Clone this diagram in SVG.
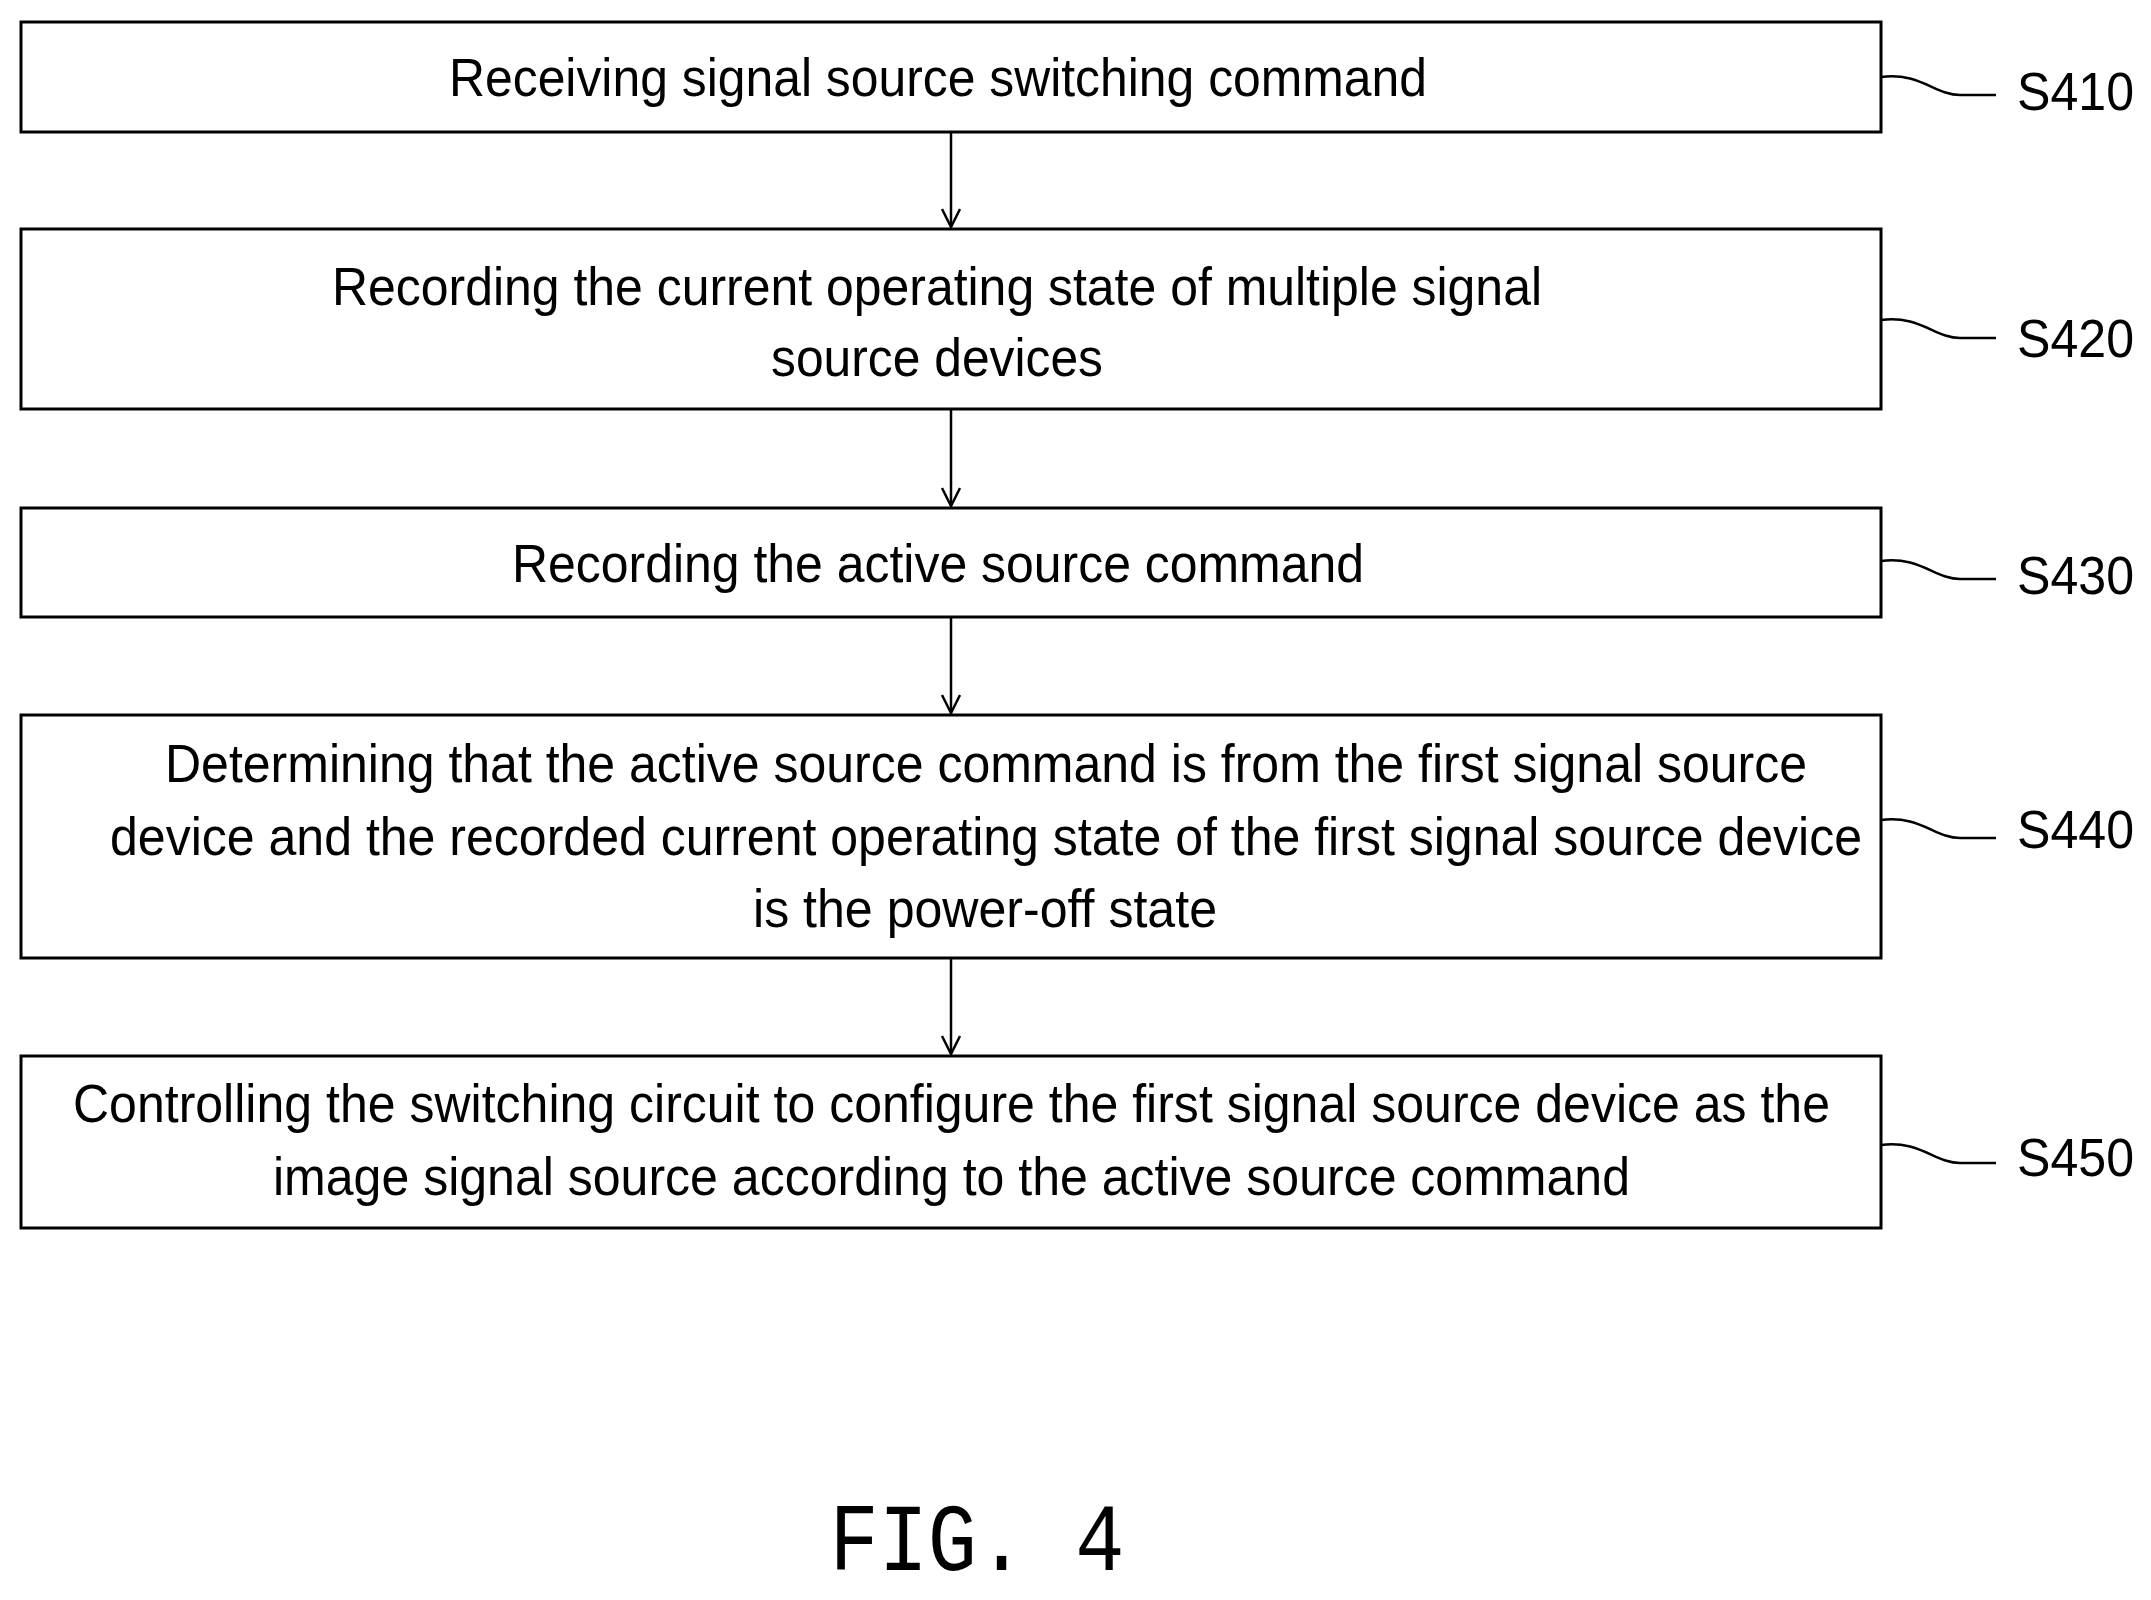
<svg xmlns="http://www.w3.org/2000/svg" width="2151" height="1600" viewBox="0 0 2151 1600">
<style>
.b{fill:#fff;stroke:#000;stroke-width:3}
.t{font-family:"Liberation Sans",Arial,sans-serif;font-size:54px;fill:#000}
.l{font-family:"Liberation Sans",Arial,sans-serif;font-size:54px;fill:#000}
.c{fill:none;stroke:#000;stroke-width:2.5}
</style>
<defs><marker id="a" viewBox="0 0 20 20" refX="19" refY="10" markerWidth="20" markerHeight="20" markerUnits="userSpaceOnUse" orient="auto"><path d="M1,1 L19,10 L1,19" fill="none" stroke="#000" stroke-width="2.5"/></marker></defs>
<rect width="2151" height="1600" fill="#fff"/>
<g id="n1"><rect class="b" x="21" y="22" width="1860" height="110"/><text class="t" x="449" y="96" textLength="978" lengthAdjust="spacingAndGlyphs">Receiving signal source switching command</text></g>
<g id="n2"><rect class="b" x="21" y="229" width="1860" height="180"/><text class="t" x="332" y="305" textLength="1210" lengthAdjust="spacingAndGlyphs">Recording the current operating state of multiple signal</text><text class="t" x="771" y="376" textLength="332" lengthAdjust="spacingAndGlyphs">source devices</text></g>
<g id="n3"><rect class="b" x="21" y="508" width="1860" height="109"/><text class="t" x="512" y="582" textLength="852" lengthAdjust="spacingAndGlyphs">Recording the active source command</text></g>
<g id="n4"><rect class="b" x="21" y="715" width="1860" height="243"/><text class="t" x="165" y="782" textLength="1642" lengthAdjust="spacingAndGlyphs">Determining that the active source command is from the first signal source</text><text class="t" x="110" y="855" textLength="1752" lengthAdjust="spacingAndGlyphs">device and the recorded current operating state of the first signal source device</text><text class="t" x="753" y="927" textLength="464" lengthAdjust="spacingAndGlyphs">is the power-off state</text></g>
<g id="n5"><rect class="b" x="21" y="1056" width="1860" height="172"/><text class="t" x="73" y="1122" textLength="1757" lengthAdjust="spacingAndGlyphs">Controlling the switching circuit to configure the first signal source device as the</text><text class="t" x="273" y="1195" textLength="1357" lengthAdjust="spacingAndGlyphs">image signal source according to the active source command</text></g>
<g id="connectors">
<line class="c" x1="951" y1="132" x2="951" y2="227" marker-end="url(#a)"/>
<line class="c" x1="951" y1="409" x2="951" y2="506" marker-end="url(#a)"/>
<line class="c" x1="951" y1="617" x2="951" y2="713" marker-end="url(#a)"/>
<line class="c" x1="951" y1="958" x2="951" y2="1054" marker-end="url(#a)"/>
<path class="c" d="M1881,77 C1920,72 1935,95 1960,95 L1996,95"/>
<path class="c" d="M1881,320 C1920,315 1935,338 1960,338 L1996,338"/>
<path class="c" d="M1881,561 C1920,556 1935,579 1960,579 L1996,579"/>
<path class="c" d="M1881,820 C1920,815 1935,838 1960,838 L1996,838"/>
<path class="c" d="M1881,1145 C1920,1140 1935,1163 1960,1163 L1996,1163"/>
</g>
<g id="labels">
<text class="l" x="2017" y="110" textLength="117" lengthAdjust="spacingAndGlyphs">S410</text>
<text class="l" x="2017" y="357" textLength="117" lengthAdjust="spacingAndGlyphs">S420</text>
<text class="l" x="2017" y="594" textLength="117" lengthAdjust="spacingAndGlyphs">S430</text>
<text class="l" x="2017" y="848" textLength="117" lengthAdjust="spacingAndGlyphs">S440</text>
<text class="l" x="2017" y="1176" textLength="117" lengthAdjust="spacingAndGlyphs">S450</text>
<text x="977" y="1570" text-anchor="middle" font-family="Liberation Mono,monospace" font-size="96" textLength="295" lengthAdjust="spacingAndGlyphs">FIG. 4</text>
</g>
</svg>
